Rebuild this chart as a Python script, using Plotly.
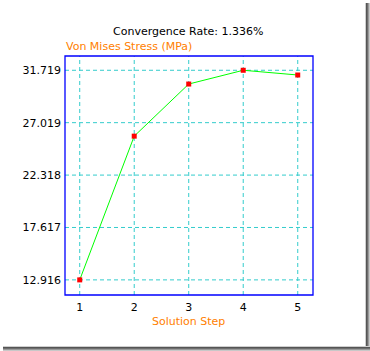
import plotly.graph_objects as go

steps = [1, 2, 3, 4, 5]
stress = [12.916, 25.81, 30.485, 31.719, 31.295]
y_ticks = [12.916, 17.617, 22.318, 27.019, 31.719]
y_tick_labels = ["12.916", "17.617", "22.318", "27.019", "31.719"]
x_ticks = [1, 2, 3, 4, 5]
title_text = "Convergence Rate: 1.336%"
y_title = "Von Mises Stress (MPa)"
x_title = "Solution Step"

W, H = 370, 351
L, R, T, B = 65, 57, 56, 56
pw, ph = W - L - R, H - T - B

def px(x):
    return (x - L) / pw

def py(y):
    return 1 - (y - T) / ph

FONT = "DejaVu Sans"
orange = "#ff8000"
grid = "#33cccc"

fig = go.Figure()
fig.add_trace(go.Scatter(
    x=steps, y=stress, mode="lines+markers",
    line=dict(color="#00ff00", width=1),
    marker=dict(symbol="square", size=5, color="#ff0000"),
    showlegend=False, cliponaxis=False,
))

shapes = []
# gridlines
for xv in x_ticks:
    shapes.append(dict(type="line", xref="x", yref="paper", x0=xv, x1=xv, y0=0, y1=1,
                       line=dict(color=grid, width=1, dash="4px,3px"), layer="below"))
for yv in y_ticks:
    shapes.append(dict(type="line", xref="paper", yref="y", x0=0, x1=1, y0=yv, y1=yv,
                       line=dict(color=grid, width=1, dash="4px,3px"), layer="below"))
# border
shapes.append(dict(type="rect", xref="paper", yref="paper", x0=0, x1=1, y0=0, y1=1,
                   line=dict(color="#0000ff", width=1.3), layer="above"))
# shadow frame
shadow = [(365, 366, "#cfcfcf"), (366, 367, "#555555"), (367, 368, "#6e6e6e"),
          (368, 369, "#9a9a9a"), (369, 370, "#c8c8c8")]
for a, b, c in shadow:
    shapes.append(dict(type="rect", xref="paper", yref="paper",
                       x0=px(a), x1=px(b), y0=py(351), y1=py(3),
                       fillcolor=c, line=dict(width=0)))
shadow_b = [(346, 347, "#cfcfcf"), (347, 348, "#555555"), (348, 349, "#6e6e6e"),
            (349, 350, "#9a9a9a"), (350, 351, "#c8c8c8")]
for a, b, c in shadow_b:
    shapes.append(dict(type="rect", xref="paper", yref="paper",
                       x0=px(3), x1=px(370), y0=py(b), y1=py(a),
                       fillcolor=c, line=dict(width=0)))

fig.update_layout(
    width=W, height=H,
    margin=dict(l=L, r=R, t=T, b=B),
    paper_bgcolor="white", plot_bgcolor="white",
    font=dict(family=FONT, size=11, color="black"),
    shapes=shapes,
    xaxis=dict(range=[0.73, 5.28], tickvals=x_ticks, showgrid=False, zeroline=False,
               showline=False, ticks="", ticklen=0, tickfont=dict(size=11),
               ticklabelstandoff=4, fixedrange=True),
    yaxis=dict(range=[11.56, 33.0], tickvals=y_ticks, ticktext=y_tick_labels,
               showgrid=False, zeroline=False, showline=False, ticks="",
               tickfont=dict(size=11), ticklabelstandoff=3, fixedrange=True),
    annotations=[
        dict(text=title_text, xref="paper", yref="paper", x=px(188), y=py(31),
             xanchor="center", yanchor="middle", showarrow=False,
             font=dict(family=FONT, size=11, color="black")),
        dict(text=y_title, xref="paper", yref="paper", x=px(64), y=py(47),
             xanchor="left", yanchor="middle", showarrow=False,
             font=dict(family=FONT, size=11, color=orange)),
        dict(text=x_title, xref="paper", yref="paper", x=px(188), y=py(321),
             xanchor="center", yanchor="middle", showarrow=False,
             font=dict(family=FONT, size=11, color=orange)),
    ],
)

fig.write_html("out.html")
